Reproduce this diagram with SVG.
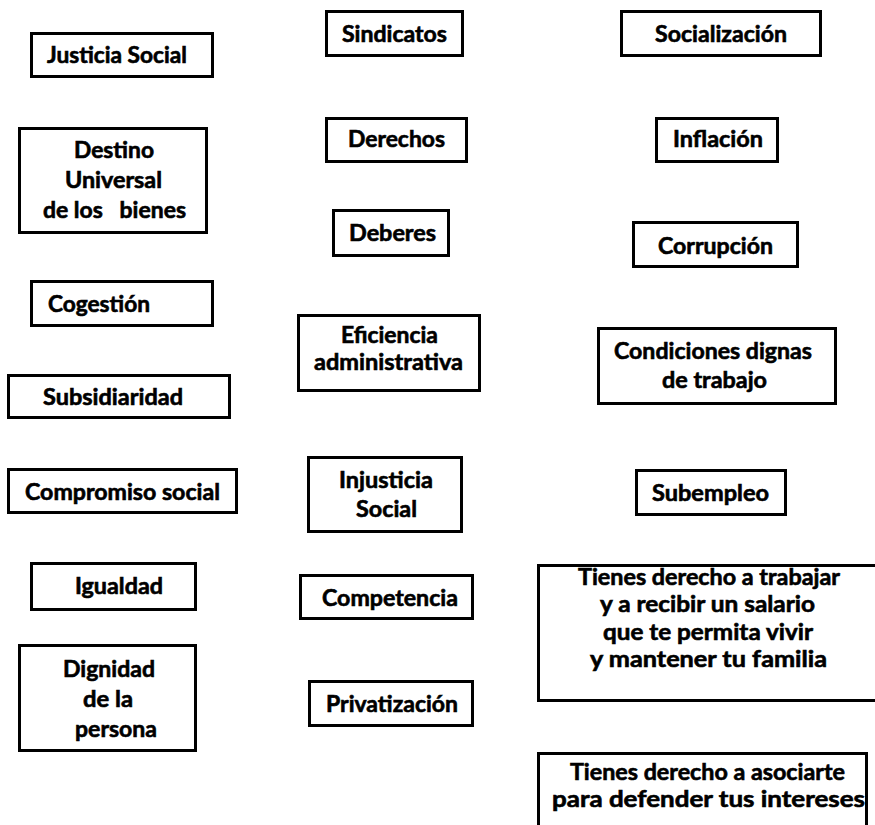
<svg xmlns="http://www.w3.org/2000/svg" width="875" height="825" viewBox="0 0 875 825">
<style>
rect { fill: #ffffff; stroke: #000000; stroke-width: 3; }
text { font-family: "Lato", "Open Sans", "Liberation Sans", sans-serif; font-weight: 700; font-size: 22px; fill: #000000; stroke: #000000; stroke-width: 0.6; white-space: pre; }
</style>
<rect x="0" y="0" width="875" height="825" style="stroke:none;fill:#ffffff"/>
<g id="n-justicia"><rect x="31.5" y="33.5" width="181" height="43"/><text x="47" y="63" textLength="140" lengthAdjust="spacingAndGlyphs">Justicia Social</text></g>
<g id="n-destino"><rect x="19.5" y="128.5" width="187" height="104"/><text x="74" y="158" textLength="80" lengthAdjust="spacingAndGlyphs">Destino</text><text x="65" y="188" textLength="97" lengthAdjust="spacingAndGlyphs">Universal</text><text x="43" y="218" textLength="143" lengthAdjust="spacingAndGlyphs">de los   bienes</text></g>
<g id="n-cogestion"><rect x="31.5" y="281.5" width="181" height="44"/><text x="48" y="312" textLength="102" lengthAdjust="spacingAndGlyphs">Cogestión</text></g>
<g id="n-subsidiaridad"><rect x="8.5" y="375.5" width="221" height="42"/><text x="43" y="405" textLength="140" lengthAdjust="spacingAndGlyphs">Subsidiaridad</text></g>
<g id="n-compromiso"><rect x="8.5" y="469.5" width="228" height="43"/><text x="25" y="500" textLength="195" lengthAdjust="spacingAndGlyphs">Compromiso social</text></g>
<g id="n-igualdad"><rect x="31.5" y="563.5" width="164" height="46"/><text x="75" y="594" textLength="88" lengthAdjust="spacingAndGlyphs">Igualdad</text></g>
<g id="n-dignidad"><rect x="19.5" y="645.5" width="176" height="105"/><text x="63" y="677" textLength="92" lengthAdjust="spacingAndGlyphs">Dignidad</text><text x="83" y="707" textLength="50" lengthAdjust="spacingAndGlyphs">de la</text><text x="75" y="737" textLength="82" lengthAdjust="spacingAndGlyphs">persona</text></g>
<g id="n-sindicatos"><rect x="326.5" y="11.5" width="136" height="44"/><text x="342" y="42" textLength="105" lengthAdjust="spacingAndGlyphs">Sindicatos</text></g>
<g id="n-derechos"><rect x="326.5" y="118.5" width="140" height="43"/><text x="348" y="147" textLength="97" lengthAdjust="spacingAndGlyphs">Derechos</text></g>
<g id="n-deberes"><rect x="333.5" y="210.5" width="115" height="45"/><text x="349" y="241" textLength="87" lengthAdjust="spacingAndGlyphs">Deberes</text></g>
<g id="n-eficiencia"><rect x="298.5" y="315.5" width="181" height="75"/><text x="341" y="343" textLength="97" lengthAdjust="spacingAndGlyphs">Eficiencia</text><text x="314" y="370" textLength="149" lengthAdjust="spacingAndGlyphs">administrativa</text></g>
<g id="n-injusticia"><rect x="308.5" y="457.5" width="153" height="74"/><text x="339" y="488" textLength="94" lengthAdjust="spacingAndGlyphs">Injusticia</text><text x="356" y="517" textLength="61" lengthAdjust="spacingAndGlyphs">Social</text></g>
<g id="n-competencia"><rect x="300.5" y="575.5" width="172" height="43"/><text x="322" y="606" textLength="136" lengthAdjust="spacingAndGlyphs">Competencia</text></g>
<g id="n-privatizacion"><rect x="309.5" y="681.5" width="163" height="44"/><text x="326" y="712" textLength="132" lengthAdjust="spacingAndGlyphs">Privatización</text></g>
<g id="n-socializacion"><rect x="621.5" y="11.5" width="199" height="44"/><text x="655" y="42" textLength="132" lengthAdjust="spacingAndGlyphs">Socialización</text></g>
<g id="n-inflacion"><rect x="656.5" y="118.5" width="121" height="43"/><text x="673" y="147" textLength="90" lengthAdjust="spacingAndGlyphs">Inflación</text></g>
<g id="n-corrupcion"><rect x="633.5" y="222.5" width="164" height="44"/><text x="658" y="254" textLength="115" lengthAdjust="spacingAndGlyphs">Corrupción</text></g>
<g id="n-condiciones"><rect x="598.5" y="328.5" width="237" height="75"/><text x="614" y="359" textLength="198" lengthAdjust="spacingAndGlyphs">Condiciones dignas</text><text x="662" y="388" textLength="105" lengthAdjust="spacingAndGlyphs">de trabajo</text></g>
<g id="n-subempleo"><rect x="636.5" y="470.5" width="149" height="44"/><text x="652" y="501" textLength="117" lengthAdjust="spacingAndGlyphs">Subempleo</text></g>
<g id="n-trabajar"><rect x="538.5" y="565.5" width="345" height="135"/><text x="578" y="585" textLength="262" lengthAdjust="spacingAndGlyphs">Tienes derecho a trabajar</text><text x="600" y="612" textLength="215" lengthAdjust="spacingAndGlyphs">y a recibir un salario</text><text x="603" y="640" textLength="210" lengthAdjust="spacingAndGlyphs">que te permita vivir</text><text x="590" y="667" textLength="237" lengthAdjust="spacingAndGlyphs">y mantener tu familia</text></g>
<g id="n-asociarte"><rect x="538.5" y="753.5" width="328" height="85"/><text x="570" y="780" textLength="275" lengthAdjust="spacingAndGlyphs">Tienes derecho a asociarte</text><text x="552" y="807" textLength="313" lengthAdjust="spacingAndGlyphs">para defender tus intereses</text></g>
</svg>
